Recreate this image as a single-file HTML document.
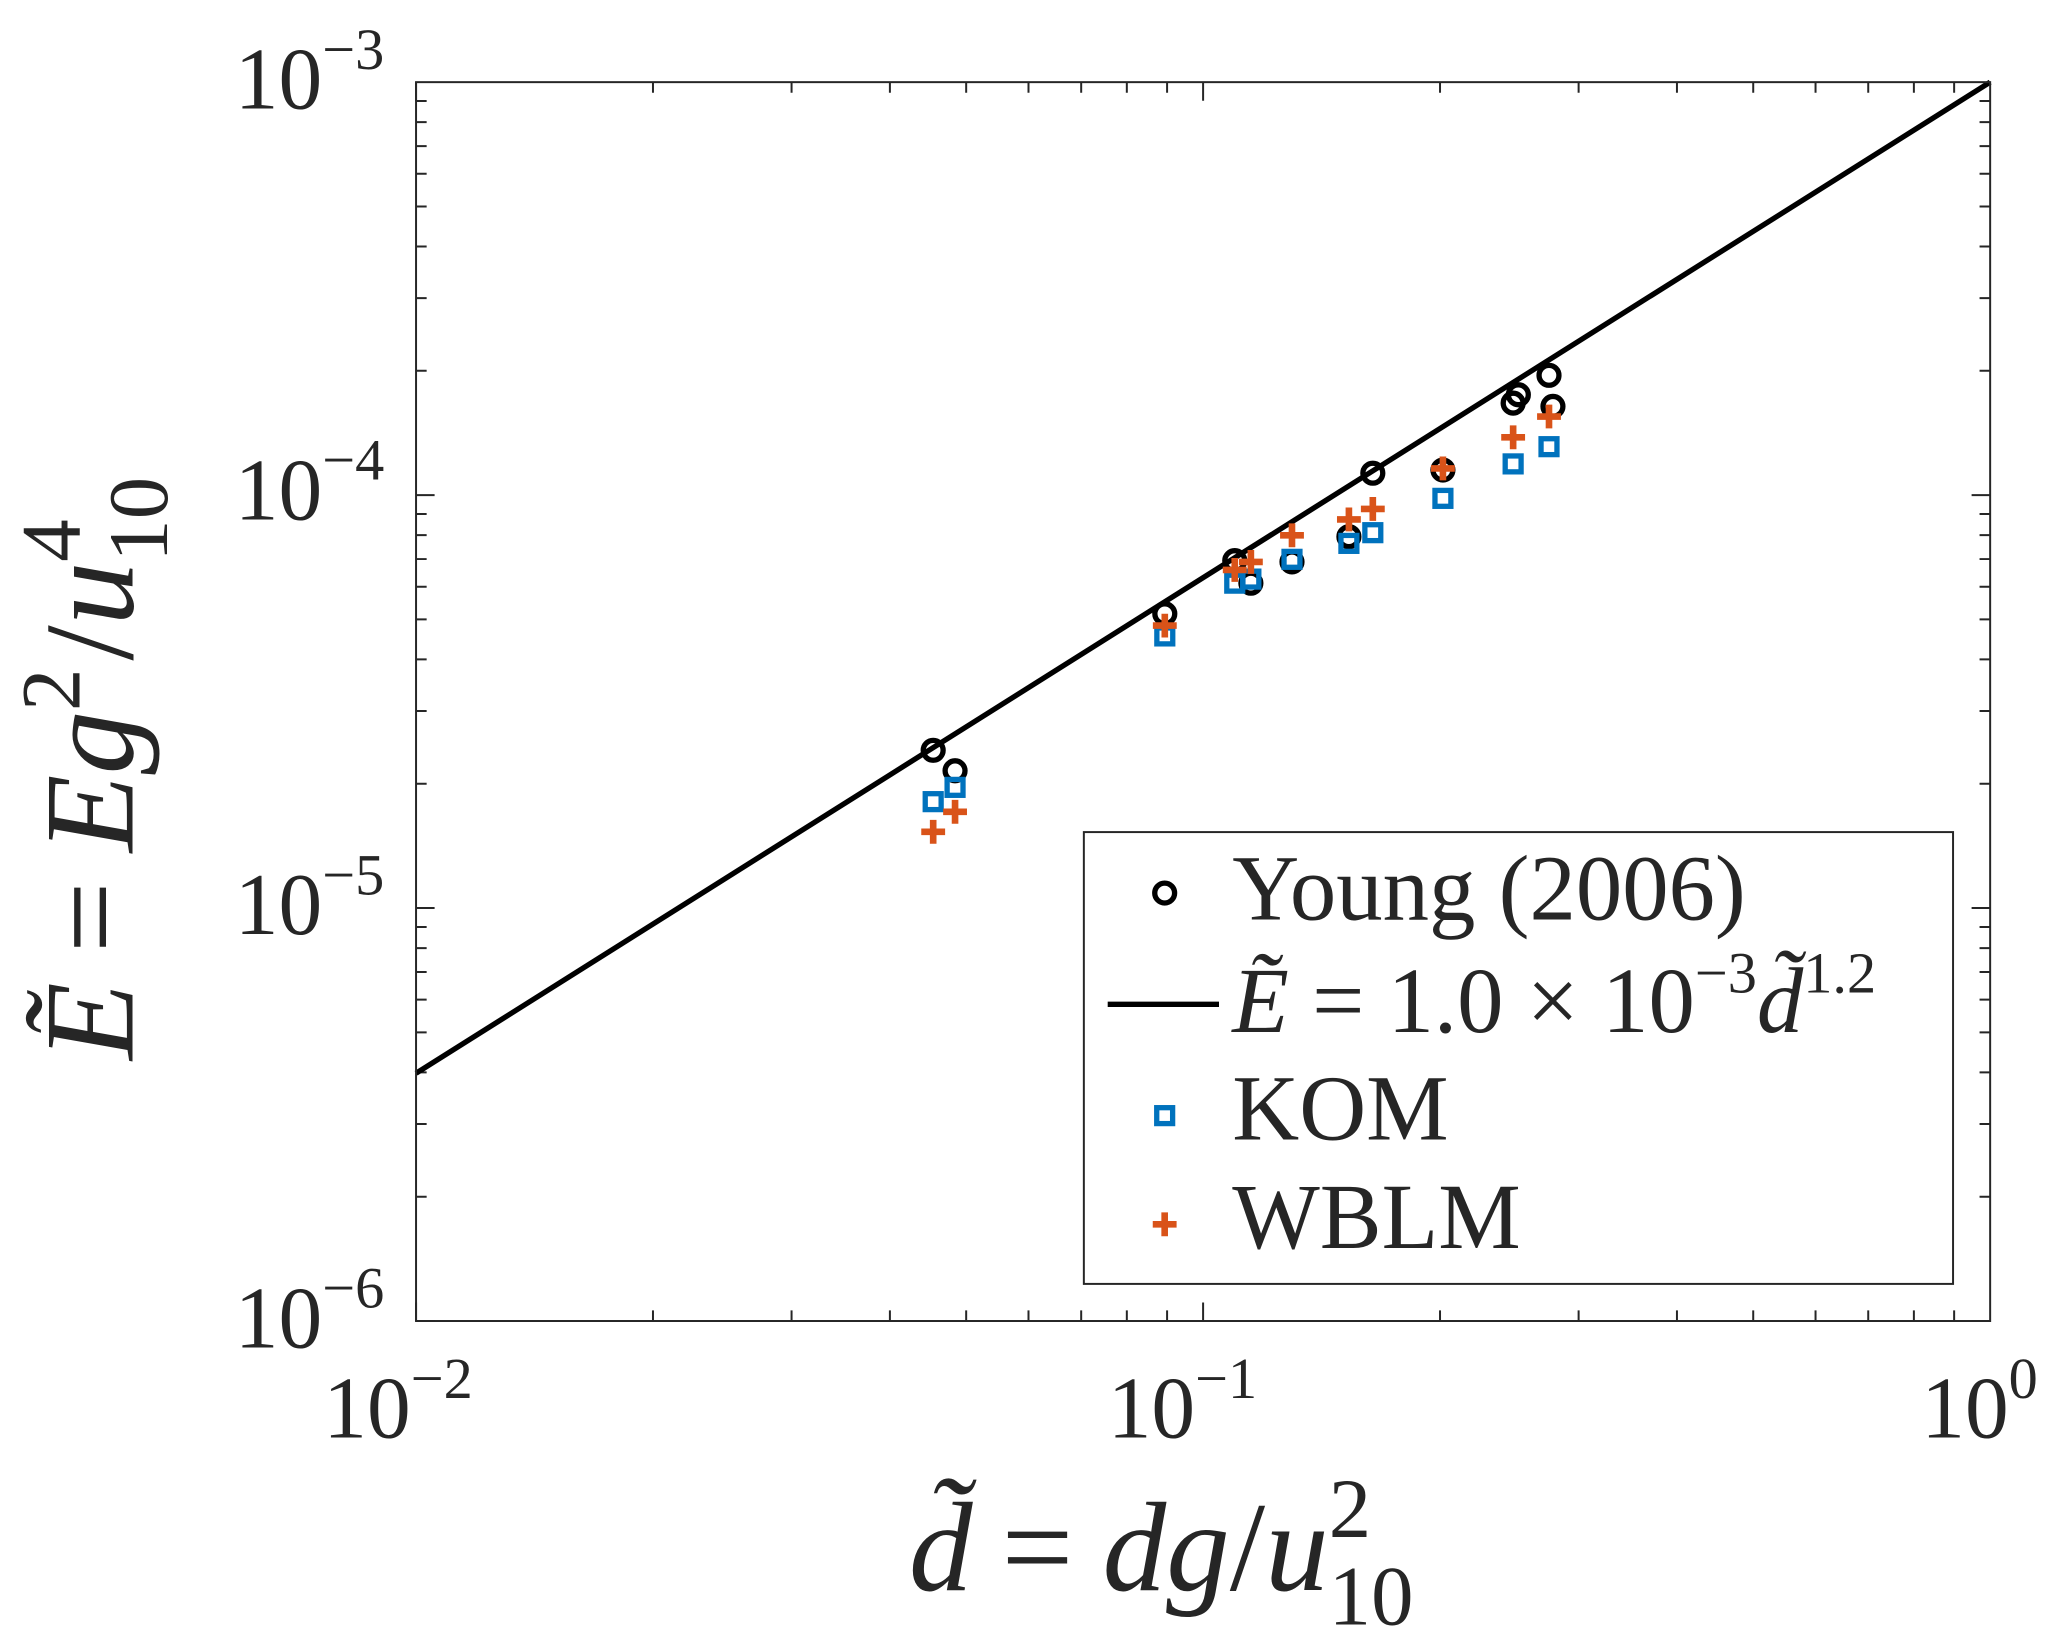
<!DOCTYPE html>
<html><head><meta charset="utf-8"><style>
html,body{margin:0;padding:0;background:#fff;}
svg{display:block;}
text{font-family:"Liberation Serif",serif;fill:#262626;}
</style></head><body>
<svg id="chart" width="2067" height="1639" viewBox="0 0 1560 1237" preserveAspectRatio="none" xmlns="http://www.w3.org/2000/svg">
<rect x="0" y="0" width="1560" height="1237" fill="#fff"/>
<g id="ticks"></g>
<g id="marks"></g>
<rect x="314" y="62" width="1188" height="935" fill="none" stroke="#262626" stroke-width="1.5"/>
<g font-size="66" text-anchor="end">
<text x="290" y="1017">10<tspan dy="-30" font-size="44">−6</tspan></text>
<text x="290" y="705">10<tspan dy="-30" font-size="44">−5</tspan></text>
<text x="290" y="392">10<tspan dy="-30" font-size="44">−4</tspan></text>
<text x="290" y="82">10<tspan dy="-30" font-size="44">−3</tspan></text>
</g>
<g font-size="66">
<text x="244" y="1085">10<tspan dy="-30" font-size="44">−2</tspan></text>
<text x="836" y="1085">10<tspan dy="-30" font-size="44">−1</tspan></text>
<text x="1450" y="1085">10<tspan dy="-30" font-size="44">0</tspan></text>
</g>
<text x="686" y="1200" font-size="96" font-style="italic" fill="#262626">d̃<tspan dx="22" font-style="normal">=</tspan><tspan dx="22">dg</tspan><tspan font-style="normal">/</tspan>u<tspan font-size="64" dy="-40" font-style="normal">2</tspan><tspan font-size="64" dx="-32" dy="66" font-style="normal">10</tspan></text>
<text transform="translate(100,800) rotate(-90)" font-size="96" font-style="italic">Ẽ<tspan dx="22" font-style="normal">=</tspan><tspan dx="22">Eg</tspan><tspan font-size="64" dy="-40" font-style="normal">2</tspan><tspan dy="40" dx="6" font-style="normal">/</tspan>u<tspan font-size="64" dy="-40" font-style="normal">4</tspan><tspan font-size="64" dx="-32" dy="66" font-style="normal">10</tspan></text>
<g>
<rect x="818" y="628" width="656" height="341" fill="#fff" stroke="#262626" stroke-width="1.5"/>
<circle cx="879" cy="674" r="7.5" fill="none" stroke="#000" stroke-width="4"/>
<text x="930" y="694" font-size="70" fill="#000">Young (2006)</text>
<line x1="836" y1="758" x2="920" y2="758" stroke="#000" stroke-width="4"/>
<text x="930" y="779" font-size="70" fill="#000"><tspan font-style="italic">Ẽ</tspan> = 1.0 × 10<tspan dy="-30" font-size="44">−3</tspan><tspan dy="30" font-style="italic">d̃</tspan><tspan dy="-30" font-size="44">1.2</tspan></text>
<rect x="873" y="836" width="12" height="12" fill="none" stroke="#0072BD" stroke-width="4"/>
<text x="930" y="860" font-size="70" fill="#000">KOM</text>
<path d="M870 924 H888 M879 915 V933" stroke="#D95319" stroke-width="5"/>
<text x="930" y="942" font-size="70" fill="#000">WBLM</text>
</g>
</svg>
<script>
const youngD=[0.0454,0.0484,0.0894,0.1097,0.1150,0.1297,0.1532,0.1643,0.2017,0.2477,0.2515,0.2751,0.2783];
const youngE=[2.41e-5,2.15e-5,5.16e-5,6.94e-5,6.12e-5,6.89e-5,7.93e-5,1.13e-4,1.15e-4,1.67e-4,1.75e-4,1.95e-4,1.64e-4];
const komD=[0.0454,0.0484,0.0894,0.1097,0.1150,0.1297,0.1532,0.1643,0.2017,0.2477,0.2751];
const komE=[1.81e-5,1.96e-5,4.56e-5,6.12e-5,6.26e-5,6.99e-5,7.64e-5,8.11e-5,9.82e-5,1.19e-4,1.31e-4];
const wblmD=[0.0454,0.0484,0.0894,0.1097,0.1150,0.1297,0.1532,0.1643,0.2017,0.2477,0.2751];
const wblmE=[1.53e-5,1.71e-5,4.83e-5,6.59e-5,6.89e-5,7.99e-5,8.73e-5,9.26e-5,1.16e-4,1.38e-4,1.55e-4];
const fitCoef=1.0e-3, fitExp=1.2;
const xDomain=[0.01,1], yDomain=[1e-6,1e-3];
const L=314,R=1502,T=62,B=997;
const NS='http://www.w3.org/2000/svg';
function xs(v){return L+(Math.log10(v)-Math.log10(xDomain[0]))/(Math.log10(xDomain[1])-Math.log10(xDomain[0]))*(R-L);}
function ys(v){return B-(Math.log10(v)-Math.log10(yDomain[0]))/(Math.log10(yDomain[1])-Math.log10(yDomain[0]))*(B-T);}
function mk(tag,attrs,parent){const e=document.createElementNS(NS,tag);for(const k in attrs)e.setAttribute(k,attrs[k]);parent.appendChild(e);return e;}
const tg=document.getElementById('ticks');
for(let p=-2;p<0;p++)for(let m=1;m<10;m++){const v=m*Math.pow(10,p);if(v>=1)continue;const x=xs(v);const len=m===1?14:8;
 const t=mk('path',{d:`M${x} ${B} V${B-len} M${x} ${T} V${T+len}`,stroke:'#262626','stroke-width':1.5},tg);
 
 }
for(let p=-6;p<-3;p++)for(let m=1;m<10;m++){const v=m*Math.pow(10,p);const y=ys(v);const len=m===1?14:8;
 const t=mk('path',{d:`M${L} ${y} H${L+len} M${R} ${y} H${R-len}`,stroke:'#262626','stroke-width':1.5},tg);
 
 }
const g=document.getElementById('marks');
const line=mk('line',{x1:xs(xDomain[0]),y1:ys(fitCoef*Math.pow(xDomain[0],fitExp)),x2:xs(xDomain[1]),y2:ys(fitCoef*Math.pow(xDomain[1],fitExp)),stroke:'#000','stroke-width':4},g);


youngD.forEach((d,i)=>{const c=mk('circle',{cx:xs(d),cy:ys(youngE[i]),r:7.5,fill:'none',stroke:'#000','stroke-width':4},g);
 
 });
komD.forEach((d,i)=>{const s=mk('rect',{x:xs(d)-6,y:ys(komE[i])-6,width:12,height:12,fill:'none',stroke:'#0072BD','stroke-width':4},g);
 
 });
wblmD.forEach((d,i)=>{const x=xs(d),y=ys(wblmE[i]);const p=mk('path',{d:`M${x-9} ${y} H${x+9} M${x} ${y-9} V${y+9}`,stroke:'#D95319','stroke-width':5},g);
 
 });
</script>
</body></html>
